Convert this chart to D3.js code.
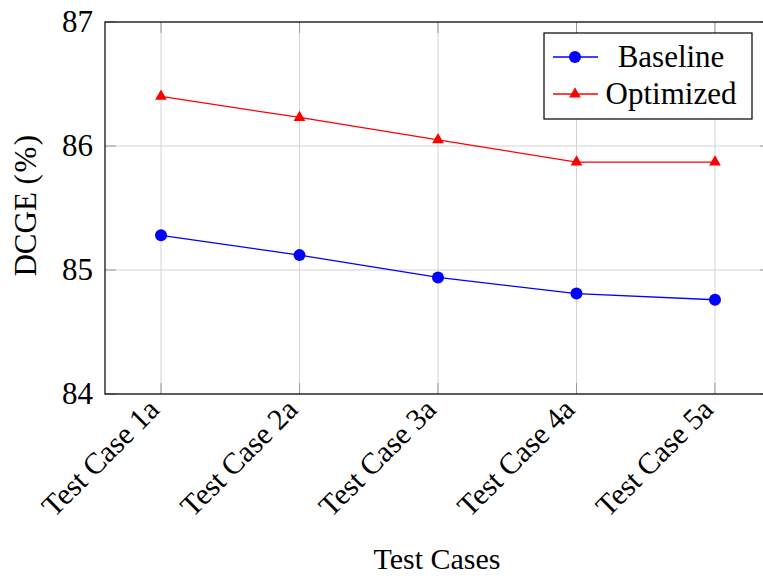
<!DOCTYPE html>
<html>
<head>
<meta charset="utf-8">
<script src="https://cdn.jsdelivr.net/npm/d3@7"></script>
<style>
  html, body { margin: 0; padding: 0; background: #fff; }
  svg { display: block; }
  svg text { font-family: 'Liberation Serif', 'DejaVu Serif', 'Times New Roman', Times, serif !important; fill: #000; }
</style>
</head>
<body>
<svg id="chart" width="763" height="576"></svg>
<script>
const categories = ["Test Case 1a", "Test Case 2a", "Test Case 3a", "Test Case 4a", "Test Case 5a"];
const baselineValues = [85.28, 85.12, 84.94, 84.81, 84.76];
const optimizedValues = [86.40, 86.23, 86.05, 85.87, 85.87];
const yTickValues = [84, 85, 86, 87];
const seriesNames = ["Baseline", "Optimized"];
const xTitle = "Test Cases";
const yTitleMain = "DCGE ";
const yTitleUnit = "(%)";

(function () {
const svg = d3.select("#chart");
const pL = 105, pR = 771, pT = 22, pB = 394;
const FS = 30;

const x = d3.scalePoint().domain(categories).range([pL, pR]).padding(0.4045);
const y = d3.scaleLinear().domain([84, 87]).range([pB, pT]);

const grid = svg.append("g");
grid.selectAll("line.gx").data(categories).join("line")
  .attr("x1", d => x(d)).attr("x2", d => x(d))
  .attr("y1", pT).attr("y2", pB)
  .attr("stroke", "#d3d3d3").attr("stroke-width", 1);
grid.selectAll("line.gy").data(yTickValues).join("line")
  .attr("x1", pL).attr("x2", pR)
  .attr("y1", d => y(d)).attr("y2", d => y(d))
  .attr("stroke", "#d3d3d3").attr("stroke-width", 1);

const tl = 11;
const ticks = svg.append("g").attr("stroke", "#999").attr("stroke-width", 1);
categories.forEach(c => {
  ticks.append("line").attr("x1", x(c)).attr("x2", x(c)).attr("y1", pB).attr("y2", pB - tl);
  ticks.append("line").attr("x1", x(c)).attr("x2", x(c)).attr("y1", pT).attr("y2", pT + tl);
});
yTickValues.forEach(v => {
  ticks.append("line").attr("x1", pL).attr("x2", pL + tl).attr("y1", y(v)).attr("y2", y(v));
  ticks.append("line").attr("x1", pR).attr("x2", pR - tl).attr("y1", y(v)).attr("y2", y(v));
});

svg.append("rect").attr("x", pL).attr("y", pT)
  .attr("width", pR - pL).attr("height", pB - pT)
  .attr("fill", "none").attr("stroke", "#000").attr("stroke-width", 1.2);

const yAxis = svg.append("g").attr("transform", `translate(${pL},0)`)
  .call(d3.axisLeft(y).tickValues(yTickValues).tickSize(0).tickPadding(12).tickFormat(d3.format("d")));
yAxis.attr("font-family", null);
yAxis.select(".domain").remove();
yAxis.selectAll("text").attr("font-size", 31).attr("fill", "#000");

const xAxis = svg.append("g").attr("transform", `translate(0,${pB})`)
  .call(d3.axisBottom(x).tickSize(0).tickPadding(0));
xAxis.attr("font-family", null);
xAxis.select(".domain").remove();
xAxis.selectAll("text")
  .attr("font-size", FS).attr("fill", "#000")
  .attr("text-anchor", "end").attr("dy", null).attr("y", 0)
  .attr("transform", "translate(-8,10) rotate(-45)")
  .attr("dominant-baseline", "central");

svg.append("text").attr("x", 437).attr("y", 569)
  .attr("text-anchor", "middle").attr("font-size", FS).text(xTitle);
const yt = svg.append("text").attr("transform", "translate(36,205) rotate(-90)")
  .attr("text-anchor", "middle").attr("font-size", 31);
yt.append("tspan").text(yTitleMain);
yt.append("tspan").attr("letter-spacing", 1.5).text(yTitleUnit);

const line = d3.line().x((d, i) => x(categories[i])).y(d => y(d));
svg.append("path").datum(baselineValues).attr("d", line)
  .attr("fill", "none").attr("stroke", "#0000ff").attr("stroke-width", 1.3);
svg.append("path").datum(optimizedValues).attr("d", line)
  .attr("fill", "none").attr("stroke", "#ff0000").attr("stroke-width", 1.3);

const tri = d3.symbol().type(d3.symbolTriangle).size(60);
svg.selectAll("circle.b").data(baselineValues).join("circle")
  .attr("cx", (d, i) => x(categories[i])).attr("cy", d => y(d)).attr("r", 6).attr("fill", "#0000ff");
svg.selectAll("path.o").data(optimizedValues).join("path")
  .attr("d", tri).attr("transform", (d, i) => `translate(${x(categories[i])},${y(d)})`).attr("fill", "#ff0000");

const lg = svg.append("g");
lg.append("rect").attr("x", 544).attr("y", 33).attr("width", 208).attr("height", 86)
  .attr("fill", "#fff").attr("stroke", "#000").attr("stroke-width", 1.2);
const colors = ["#0000ff", "#ff0000"];
const rowsY = [57, 94];
seriesNames.forEach((name, i) => {
  lg.append("line").attr("x1", 553).attr("x2", 598).attr("y1", rowsY[i]).attr("y2", rowsY[i])
    .attr("stroke", colors[i]).attr("stroke-width", 1.3);
  if (i === 0) lg.append("circle").attr("cx", 575).attr("cy", rowsY[i]).attr("r", 6).attr("fill", colors[i]);
  else lg.append("path").attr("d", tri).attr("transform", `translate(575,${rowsY[i]})`).attr("fill", colors[i]);
  lg.append("text").attr("x", 671).attr("y", rowsY[i] + 10).attr("text-anchor", "middle")
    .attr("font-size", 31).text(name);
});
})();
</script>
</body>
</html>
